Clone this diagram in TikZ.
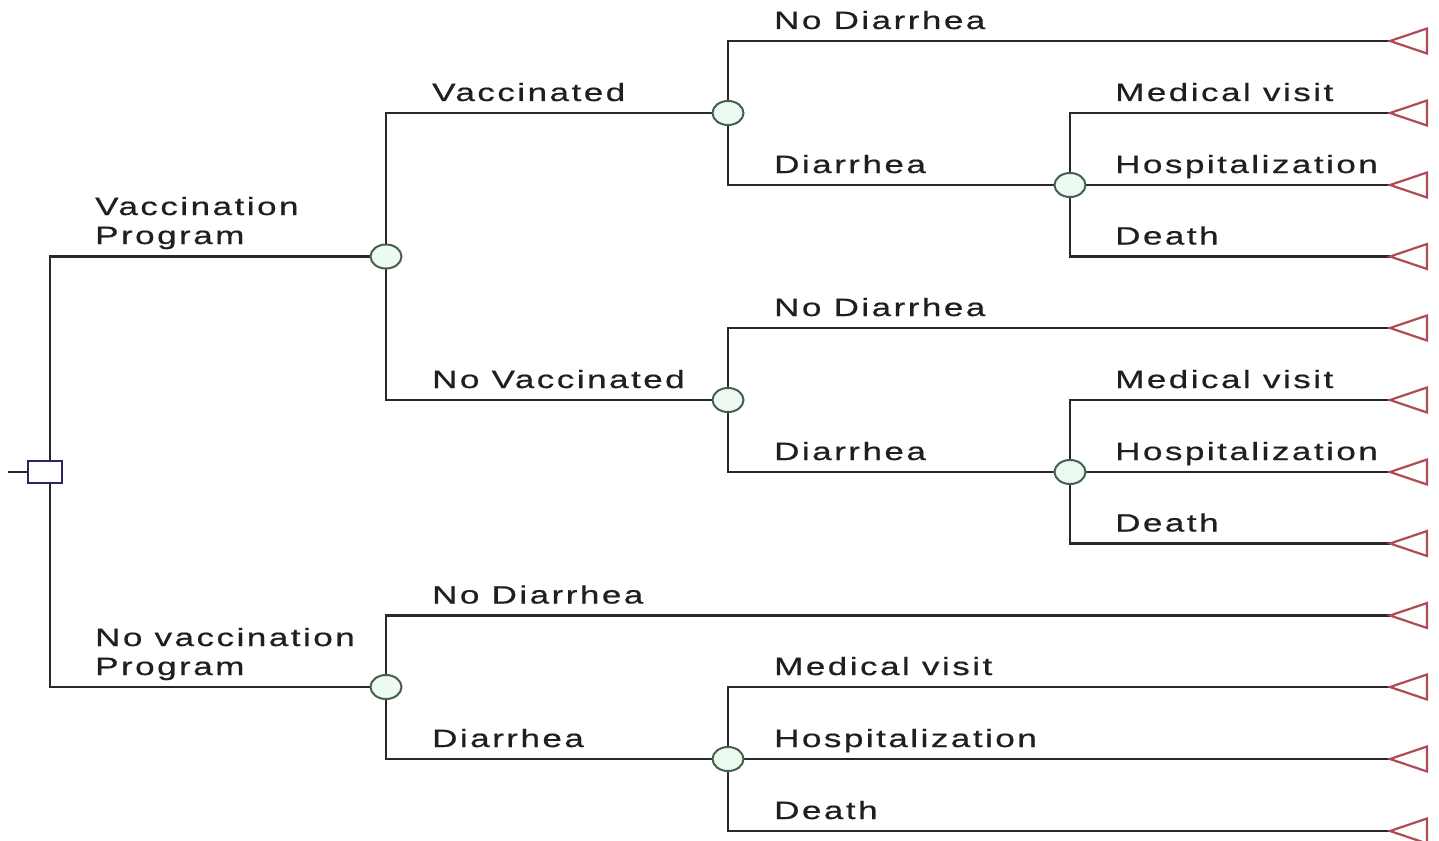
\documentclass[tikz,border=0pt]{standalone}
\usepackage{fontspec}
\newfontfamily\lblfont[FakeStretch=1.4,LetterSpace=10,FakeBold=0.6]{Liberation Sans}
\usetikzlibrary{shapes.geometric,backgrounds}
\definecolor{edge}{RGB}{40,40,40}
\definecolor{chanceline}{RGB}{70,95,80}
\definecolor{chancefill}{RGB}{236,250,240}
\definecolor{decline}{RGB}{40,40,95}
\definecolor{termline}{RGB}{175,75,85}
\begin{document}
\begin{tikzpicture}[x=1pt,y=-1pt,
  branch/.style={draw=edge,line width=2.8pt},
  chance/.style={ellipse,draw=chanceline,fill=chancefill,line width=2pt,
    minimum width=31pt,minimum height=24pt,inner sep=0pt},
  decision/.style={rectangle,draw=decline,fill=white,line width=2.2pt,
    minimum width=34pt,minimum height=22pt,inner sep=0pt},
  term/.style={draw=termline,line width=2.2pt,line join=miter},
  lbl/.style={anchor=base west,inner sep=0pt,text=black!88,
    font=\lblfont\fontsize{25}{29}\selectfont},
]
\useasboundingbox (0,0) rectangle (1439,840);

% decision node and chance nodes
\node[decision] (root) at (45,472) {};
\node[chance] (c1) at (386,256.5) {};
\node[chance] (c2) at (728,113) {};
\node[chance] (c3) at (728,400) {};
\node[chance] (c4) at (1070,185) {};
\node[chance] (c5) at (1070,472) {};
\node[chance] (c6) at (386,687) {};
\node[chance] (c7) at (728,759) {};
\coordinate (in) at (8,472);
\coordinate (rj) at (50,472);

% terminal points (triangle tips)
\foreach \i/\y in {0/41,1/113,2/185,3/256.5,4/328,5/400,6/472,7/543.5,
                   8/615.5,9/687,10/759,11/831}
  \coordinate (t\i) at (1390,\y);

% branches
\begin{scope}[on background layer]
  \draw[branch] (in) -- (root);
  \draw[branch] (rj) |- (c1.center);
  \draw[branch] (rj) |- (c6.center);
  \draw[branch] (c1.center) |- (c2.center);
  \draw[branch] (c1.center) |- (c3.center);
  \draw[branch] (c2.center) |- (t0);
  \draw[branch] (c2.center) |- (c4.center);
  \draw[branch] (c4.center) |- (t1);
  \draw[branch] (c4.center) |- (t2);
  \draw[branch] (c4.center) |- (t3);
  \draw[branch] (c3.center) |- (t4);
  \draw[branch] (c3.center) |- (c5.center);
  \draw[branch] (c5.center) |- (t5);
  \draw[branch] (c5.center) |- (t6);
  \draw[branch] (c5.center) |- (t7);
  \draw[branch] (c6.center) |- (t8);
  \draw[branch] (c6.center) |- (c7.center);
  \draw[branch] (c7.center) |- (t9);
  \draw[branch] (c7.center) |- (t10);
  \draw[branch] (c7.center) |- (t11);
\end{scope}

% terminal triangles
\foreach \i in {0,...,11}
  \draw[term] (t\i) -- ++(37,-12.5) -- ++(0,25) -- cycle;

% labels
\node[lbl] (lvp1) at (95,215) {Vaccination};
\node[lbl] (lvp2) at (95,244) {Program};
\node[lbl] (lnp1) at (95,646) {No vaccination};
\node[lbl] (lnp2) at (95,675) {Program};

\node[lbl] (lv)  at (432,101) {Vaccinated};
\node[lbl] (lnv) at (432,388) {No Vaccinated};

\node[lbl] (lnd1) at (774,29)  {No Diarrhea};
\node[lbl] (ld1)  at (774,173) {Diarrhea};
\node[lbl] (lm1)  at (1115,101) {Medical visit};
\node[lbl] (lh1)  at (1115,173) {Hospitalization};
\node[lbl] (ldt1) at (1115,244.5) {Death};

\node[lbl] (lnd2) at (774,316) {No Diarrhea};
\node[lbl] (ld2)  at (774,460) {Diarrhea};
\node[lbl] (lm2)  at (1115,388) {Medical visit};
\node[lbl] (lh2)  at (1115,460) {Hospitalization};
\node[lbl] (ldt2) at (1115,531.5) {Death};

\node[lbl] (lnd3) at (432,603.5) {No Diarrhea};
\node[lbl] (ld3)  at (432,747) {Diarrhea};
\node[lbl] (lm3)  at (774,675) {Medical visit};
\node[lbl] (lh3)  at (774,747) {Hospitalization};
\node[lbl] (ldt3) at (774,819) {Death};
\end{tikzpicture}
\end{document}
